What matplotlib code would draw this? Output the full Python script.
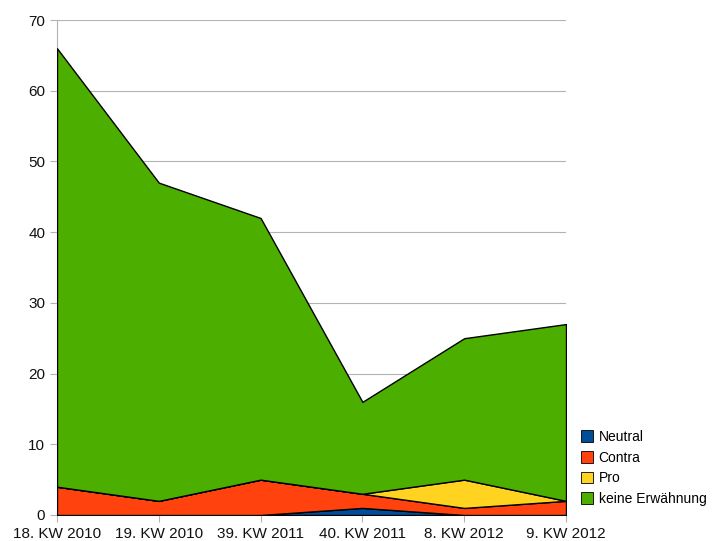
import matplotlib
matplotlib.use('Agg')
import matplotlib.pyplot as plt
import numpy as np
from matplotlib.patches import Patch

plt.rcParams['font.family'] = ['Liberation Sans', 'DejaVu Sans']

# data
weeks = ['18. KW 2010', '19. KW 2010', '39. KW 2011',
         '40. KW 2011', '8. KW 2012', '9. KW 2012']
neutral = [0, 0, 0, 1, 0, 0]
contra = [4, 2, 5, 2, 1, 2]
pro = [0, 0, 0, 0, 4, 0]
keine = [62, 45, 37, 13, 20, 25]

labels = ['Neutral', 'Contra', 'Pro', 'keine Erwähnung']
colors = ['#004d99', '#ff420e', '#ffd320', '#4caf00']

fig = plt.figure(figsize=(7.16, 5.41), dpi=100)
ax = fig.add_axes([57 / 716, 26 / 541, 509 / 716, 495 / 541])

x = np.arange(len(weeks))
ax.stackplot(x, neutral, contra, pro, keine, colors=colors,
             edgecolor='black', linewidth=1.0, zorder=3)

ax.set_xlim(0, len(weeks) - 1)
ax.set_ylim(0, 70)
ax.set_yticks(range(0, 71, 10))
ax.set_xticks(x)
ax.set_xticklabels(weeks)
ax.yaxis.grid(True, color='#b3b3b3', linewidth=0.8, zorder=0)

for side in ['top', 'right']:
    ax.spines[side].set_visible(False)
ax.spines['left'].set_color('#b3b3b3')
ax.spines['bottom'].set_color('#b3b3b3')
ax.tick_params(axis='both', colors='#b3b3b3', labelcolor='#111111',
               labelsize=11, length=5)

handles = [Patch(facecolor=c, edgecolor='black', linewidth=0.6) for c in colors]
fig.legend(handles, labels, loc='center left', frameon=False,
           bbox_to_anchor=(568 / 716, 1 - 468 / 541), fontsize=10,
           handlelength=0.9, handleheight=0.9, handletextpad=0.4,
           labelspacing=0.48)

fig.savefig('out.png', dpi=100)
